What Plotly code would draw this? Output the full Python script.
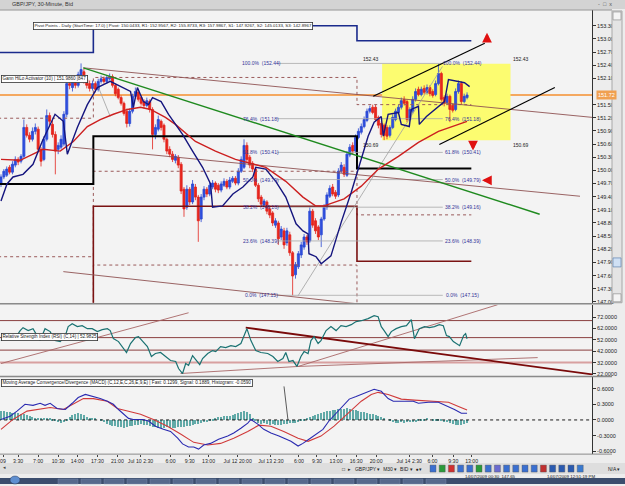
import plotly.graph_objects as go

# ======================= DATA =======================
bar_index = list(range(164))

open_ = [149.69,149.85,149.89,150.07,149.96,150.12,150.25,150.21,150.32,150.98,
         150.80,150.71,150.89,150.94,150.48,150.25,150.71,151.25,151.05,150.82,
         150.48,150.53,150.60,151.28,151.98,151.89,152.07,151.94,152.16,152.25,
         152.07,151.98,151.87,151.98,151.85,152.03,152.09,152.03,152.09,152.14,
         151.94,151.85,151.66,151.53,151.35,151.07,151.35,151.69,151.78,151.66,
         151.57,151.48,151.57,151.39,150.82,150.94,151.12,151.03,150.71,150.48,
         150.37,150.23,150.30,150.14,149.57,149.16,149.57,149.28,149.62,149.39,
         148.89,149.39,149.57,149.46,149.62,149.71,149.66,149.55,149.66,149.75,
         149.62,149.75,149.82,149.71,149.98,150.07,150.57,150.30,150.16,150.03,
         149.66,149.39,149.21,149.28,149.12,149.03,148.75,148.80,148.48,148.62,
         148.35,148.53,148.12,147.62,147.80,148.07,148.25,148.48,148.39,149.07,
         148.85,148.71,148.53,148.89,149.16,149.41,149.62,149.50,149.44,149.98,
         150.07,149.89,150.35,150.57,150.44,150.75,150.87,151.00,151.14,151.35,
         151.44,151.44,151.21,151.07,151.03,150.98,150.80,150.98,151.16,151.32,
         151.44,151.62,151.57,151.16,151.35,151.62,151.85,151.73,151.87,151.78,
         151.89,151.80,151.73,151.98,152.21,151.66,151.55,151.69,151.48,151.39,
         151.80,151.98,151.57,151.66]
high_ = [149.91,150.03,150.09,150.12,150.21,150.32,150.30,150.37,151.16,151.05,
         150.87,150.98,151.07,151.00,150.53,150.78,151.39,151.32,151.14,150.89,
         150.64,150.80,151.35,152.07,152.07,152.12,152.14,152.25,152.44,152.32,
         152.14,152.05,152.05,152.03,152.09,152.16,152.14,152.16,152.21,152.19,
         151.98,151.89,151.71,151.57,151.41,151.41,151.75,151.89,151.85,151.71,
         151.62,151.66,151.62,151.44,151.05,151.25,151.16,151.07,150.75,150.55,
         150.44,150.37,150.35,150.19,149.62,149.66,149.62,149.78,149.69,149.44,
         149.46,149.64,149.62,149.73,149.78,149.75,149.71,149.75,149.82,149.80,
         149.85,149.87,149.87,150.05,150.32,150.71,150.64,150.35,150.21,150.07,
         149.71,149.44,149.35,149.32,149.16,149.07,148.91,148.85,148.73,148.69,
         148.69,148.60,148.16,147.91,148.16,148.37,148.55,148.53,149.16,149.12,
         148.91,148.75,148.94,149.23,149.50,149.66,149.69,149.55,150.05,150.19,
         150.14,150.44,150.60,150.64,150.82,150.96,151.07,151.23,151.41,151.48,
         151.50,151.50,151.25,151.12,151.07,151.03,151.03,151.28,151.41,151.50,
         151.66,151.69,151.62,151.44,151.69,151.87,151.91,151.91,151.94,151.96,
         151.94,151.85,152.05,152.43,152.25,151.71,151.75,151.73,151.53,151.87,
         152.05,152.03,151.75,151.78]
low_ = [149.62,149.80,149.85,149.91,149.91,150.07,150.12,150.16,150.28,150.75,
        150.64,150.66,150.82,150.44,150.09,150.21,150.66,151.03,150.75,149.91,
        150.37,150.48,150.55,151.21,151.85,151.80,151.87,151.89,152.09,151.98,
        151.87,151.80,151.82,151.78,151.80,151.98,151.98,151.98,152.05,151.89,
        151.69,151.62,151.48,151.25,150.98,151.00,151.30,151.64,151.57,151.48,
        151.41,151.44,151.32,150.48,150.71,150.89,150.91,150.64,150.37,150.30,
        150.19,150.16,150.05,149.46,148.94,149.10,149.21,149.23,149.32,148.37,
        148.82,149.32,149.39,149.41,149.57,149.50,149.48,149.50,149.62,149.57,
        149.57,149.71,149.66,149.66,149.94,150.03,150.19,150.05,149.96,149.62,
        149.28,149.16,149.16,149.00,148.91,148.73,148.69,148.30,148.41,148.21,
        148.28,148.05,147.15,147.53,147.75,148.00,148.19,148.30,148.35,148.69,
        148.55,148.41,148.25,148.85,149.10,149.37,149.41,149.35,149.39,149.94,
        149.85,149.85,150.30,150.37,150.39,150.71,150.82,150.96,151.10,151.30,
        151.28,151.12,150.96,150.75,150.69,150.71,150.75,150.94,151.12,151.28,
        151.39,151.48,151.10,151.12,151.30,151.57,151.69,151.69,151.73,151.73,
        151.69,151.66,151.69,151.94,151.57,151.46,151.50,151.10,151.32,151.35,
        151.75,151.50,151.53,151.62]
close_ = [149.85,149.98,150.03,149.96,150.14,150.25,150.19,150.32,150.98,150.80,
          150.71,150.89,150.98,150.48,150.21,150.71,151.25,151.12,150.82,150.44,
          150.57,150.71,151.28,151.98,151.94,152.03,151.94,152.19,152.30,152.07,
          151.94,151.87,151.98,151.85,152.03,152.09,152.03,152.12,152.14,151.94,
          151.75,151.66,151.53,151.30,151.07,151.35,151.69,151.80,151.62,151.53,
          151.48,151.59,151.39,150.82,150.98,151.16,150.98,150.71,150.44,150.37,
          150.25,150.32,150.12,149.53,149.12,149.57,149.28,149.69,149.39,148.85,
          149.39,149.57,149.46,149.66,149.71,149.57,149.55,149.69,149.75,149.62,
          149.78,149.82,149.71,149.98,150.25,150.57,150.25,150.12,150.03,149.66,
          149.35,149.23,149.30,149.07,148.98,148.80,148.85,148.44,148.66,148.30,
          148.62,148.12,147.59,147.85,148.10,148.30,148.48,148.37,149.07,148.75,
          148.62,148.48,148.89,149.16,149.44,149.59,149.46,149.41,149.98,150.12,
          149.91,150.37,150.53,150.44,150.75,150.89,151.00,151.16,151.35,151.41,
          151.32,151.16,151.03,150.82,150.80,150.78,150.98,151.21,151.35,151.44,
          151.59,151.53,151.16,151.39,151.62,151.80,151.73,151.85,151.78,151.89,
          151.75,151.71,151.98,152.21,151.62,151.53,151.69,151.39,151.37,151.80,
          151.98,151.57,151.69,151.72]

ma_x = [0,6.7,11.2,14.7,20.7,25.3,30.2,34.7,39.3,44.2,48.8,52.3,57.5,61,68,75,82,85.6,
        92.6,99.6,105.6,110,113,120,126,132,139,146,153,160,163]
ma_y = [150.25,150.23,150.37,150.48,150.44,150.66,151.00,151.16,151.28,151.39,151.44,
        151.39,151.21,151.05,150.66,150.44,150.25,150.19,150.07,149.75,149.39,149.19,
        149.19,149.35,149.64,150.03,150.32,150.64,150.89,151.05,151.12]

hilo_x = [0,2.1,4.2,7.7,11.2,13,14.4,18.9,21.8,23.2,26.7,30.2,33.7,38.2,41.8,45.3,46.3,
          47.7,49.8,51.6,53,56,58.6,63.5,67,70.5,73.3,74,77.5,81.1,84.6,88.1,89.1,92.6,
          96.1,99.6,103.2,105.6,107.4,107.7,110.2,112,115.4,119,122.5,126,128.4,130.5,
          133,133.7,135.4,139,140,142.8,143.5,146,146.3,148.8,153,155.1,156.5,160,162.1,163.9]
hilo_y = [149.30,149.69,149.85,149.91,150.14,150.41,150.66,151.28,151.12,150.37,150.98,
          151.50,151.89,152.03,151.91,151.80,151.44,151.89,151.57,151.50,151.66,151.57,
          151.28,150.82,150.44,150.07,149.69,149.16,149.19,149.46,149.62,149.85,150.07,
          150.03,149.75,149.39,148.78,148.62,148.55,148.10,148.03,147.87,148.05,148.82,
          149.50,150.25,150.78,151.10,151.23,150.78,151.28,151.32,151.05,151.00,151.39,
          151.46,151.05,151.23,151.46,151.57,152.07,152.03,152.00,151.91]

# daily pivot levels per session (edges in bar index)
session_edges = [-1, 32.3, 124.5, 164.5]
pivot_r1  = [152.69, 153.30, 152.9567, 152.9567]
pivot_mr1 = [151.19, 152.12, 151.50, 151.50]
pivot_pp  = [149.69, 150.78, 150.0433, 150.0433]
pivot_ms1 = [148.03, 149.98, 148.985, 148.985]
pivot_s1  = [146.37, 149.18, 147.9267, 147.9267]
pivot_ms2 = [144.90, 147.84, 146.47, 146.47]

fib_labels = ["100.0%", "76.4%", "61.8%", "50.0%", "38.2%", "23.6%", "0.0%"]
fib_prices = [152.44, 151.18, 150.41, 149.79, 149.16, 148.39, 147.15]
fib_span = [96.5, 154.5]
fib_label_x = [91.0, 161.5]

box_x = [133.3, 178.2]
box_prices = [150.69, 152.43]
current_price = 151.72

# drawn trend lines: [x0, y0, x1, y1]
green_line = [28.8, 152.34, 188.4, 149.00]
brown_lines = [[28.8, 152.34, 206.7, 151.21],
               [24.9, 150.53, 202.5, 149.41],
               [21.8, 147.69, 124.2, 146.96]]
gray_lines = [[103.9, 147.14, 154.4, 152.37],
              [34.0, 151.91, 38.2, 151.23]]
channel_lines = [[130.2, 151.69, 169.2, 152.90],
                 [153.3, 150.59, 193.7, 151.89]]

rsi_x = [0,1.4,3.2,4.9,6.7,7.7,9.5,11.2,12.6,13.7,15.4,17.2,18.9,20.7,22.5,23.5,24.9,26.7,
         28.4,30.2,31.9,33.7,35.4,37.2,38.2,39.3,41.1,42.5,43.9,45.3,47,48.1,49.8,51.2,52.6,
         54,55.8,57.5,59.3,61.1,62.1,63.5,64.6,65.6,67,68.1,69.5,70.5,72.3,74,75.1,76.8,78.6,
         80.4,82.1,83.9,84.9,86,87.4,89.1,90.9,93.3,95.1,96.8,98.6,99.6,100.7,102.1,103.5,
         104.9,106,107.4,108.4,109.5,110.9,111.9,113.7,115.4,117.2,118.9,120.7,122.5,124.2,
         126,128.4,130.5,131.9,133,134,135.4,136.5,138.2,140,141.8,143.5,144.6,146.3,148.1,
         149.8,151.6,153.3,154.7,155.8,156.8,158.2,159.3,160.4,161.8,162.5,163]
rsi_y = [51.4,54.9,55.8,53.1,60.2,62.8,60.2,61.9,55.8,51.4,61.9,59.3,51.4,50.5,55.8,63.7,
         66.3,63.7,64.5,61.9,61.9,59.3,61.0,61.9,60.2,53.1,50.5,46.1,40.9,48.8,54.0,54.9,
         49.6,46.1,37.4,40.0,40.9,37.4,33.8,33.0,26.8,22.4,31.2,29.5,38.2,34.7,30.3,35.6,
         40.0,42.6,41.7,46.1,45.2,46.9,46.1,48.8,54.9,61.9,51.4,42.6,40.9,40.0,37.4,33.0,
         35.6,40.9,33.0,33.8,28.6,37.4,41.7,40.0,51.4,54.9,48.8,51.4,60.2,63.7,60.2,64.5,
         63.7,65.4,68.1,68.9,70.7,73.3,72.4,63.7,60.2,54.9,59.3,61.9,63.7,64.5,69.8,53.1,
         61.9,63.7,62.8,63.7,65.4,64.5,55.8,54.9,50.5,48.8,46.9,55.8,57.5,52.98]
rsi_levels = [69, 54, 43, 32]
rsi_thin_lines = [[0, 31.2, 65.6, 75.9],
                  [62.8, 22.4, 103.9, 28.6],
                  [103.9, 28.6, 173.7, 83.0],
                  [103.9, 28.6, 187.7, 36.4]]
rsi_thick_line = [85.6, 62.8, 206.7, 21.6]

macd_fast_x = [0,3.2,5.6,8.4,11.2,13.7,15.4,17.2,19.6,22.5,24.9,27,29.5,32.3,34.7,37.2,39.3,
               41.1,42.8,44.6,46.3,49.5,51.6,54,56.8,59.3,61.8,63.5,65.6,67.4,69.1,70.9,73.3,
               76.1,79.3,81.4,83.9,86.3,87.4,89.8,91.9,94.4,97.2,99.6,101.4,103.9,105.6,107.7,
               110.2,112.6,114.7,117.2,119.6,121.8,124.2,127,130.5,133,135.4,137.2,141,144.2,
               146,149.5,153,156.5,158.6,161,163]
macd_fast_y = [0.01,0.07,0.17,0.30,0.28,0.32,0.28,0.32,0.22,0.20,0.32,0.43,0.49,0.45,0.41,
               0.36,0.30,0.20,0.11,0.03,0.01,0.01,-0.02,-0.12,-0.18,-0.22,-0.35,-0.46,-0.52,
               -0.52,-0.56,-0.48,-0.45,-0.37,-0.31,-0.25,-0.16,-0.06,0.01,-0.08,-0.18,-0.25,
               -0.31,-0.37,-0.41,-0.50,-0.45,-0.37,-0.27,-0.18,-0.02,0.13,0.26,0.40,0.45,0.51,
               0.59,0.55,0.41,0.36,0.36,0.36,0.32,0.34,0.34,0.26,0.20,0.13,0.13]
macd_sig_x = [0,4.2,9.1,12.6,17.2,21.8,25.3,28.8,32.3,37.2,40.7,45.3,48.8,53.3,58.2,62.8,67.4,
              72.3,76.8,81.4,86.3,90.2,94.4,98.9,103.9,107.4,111.9,116.5,121.4,126,129.5,131.9,
              135.4,140,144.6,151.6,156.5,160,163]
macd_sig_y = [-0.18,0.01,0.17,0.20,0.24,0.20,0.30,0.41,0.41,0.36,0.22,0.15,0.11,0.01,-0.12,
              -0.27,-0.43,-0.48,-0.45,-0.35,-0.22,-0.10,-0.12,-0.22,-0.35,-0.41,-0.31,-0.12,
              0.13,0.36,0.49,0.53,0.49,0.40,0.38,0.36,0.34,0.26,0.19]
macd_hist = [0.16,0.17,0.15,0.14,0.12,
             0.13,0.12,0.11,0.10,0.09,0.07,0.05,
             0.03,0.02,0.02,0.01,0.02,0.01,-0.01,
             -0.03,-0.05,-0.06,-0.04,-0.02,
             0.04,0.08,0.11,0.12,0.10,0.08,0.05,
             0.03,0.02,0.01,0.00,
             -0.03,-0.05,-0.08,-0.10,-0.12,-0.13,-0.14,
             -0.15,-0.16,-0.15,-0.13,-0.12,-0.11,-0.10,
             -0.09,-0.10,-0.11,-0.12,-0.14,-0.15,
             -0.16,-0.17,-0.16,-0.15,-0.16,-0.17,
             -0.16,-0.15,-0.14,-0.15,-0.13,-0.12,-0.11,-0.09,-0.08,
             -0.06,-0.05,-0.04,-0.02,-0.01,
             0.02,0.04,0.05,0.07,0.06,0.07,0.08,
             0.10,0.12,0.14,0.16,0.15,0.10,
             0.02,-0.03,-0.06,-0.08,-0.07,-0.09,
             -0.10,-0.09,-0.10,-0.11,-0.10,-0.09,-0.08,
             -0.07,-0.06,-0.07,-0.05,-0.03,-0.01,
             0.02,0.04,0.06,
             0.09,0.11,0.13,0.15,0.16,0.17,0.18,
             0.19,0.21,0.20,0.21,0.22,0.20,0.19,0.18,0.16,0.15,
             0.14,0.12,0.11,0.10,0.08,0.06,
             0.04,0.02,0.00,
             -0.03,-0.05,-0.06,-0.06,-0.05,-0.06,-0.05,-0.04,-0.05,-0.04,-0.03,-0.02,
             -0.01,0.01,0.00,-0.01,
             -0.02,-0.03,-0.03,-0.04,-0.05,
             -0.07,-0.09,-0.10,-0.11,-0.10,-0.08,-0.06]

time_tick_pos = [0.7, 6, 13, 20, 26.7, 33.7, 40.7, 48.8, 59.3, 66, 72.6, 82.8, 94.4, 104.2,
                 110.5, 117.2, 124.2, 131.2, 142.8, 150.9, 158.2, 164.6]
time_tick_text = ["09", "3:30", "7:00", "10:30", "14:00", "17:30", "21:00", "Jul 10 2:30",
                  "6:00", "9:30", "13:00", "Jul 12 20:00", "Jul 13 2:30", "6:00", "9:30",
                  "13:00", "16:30", "20:00", "Jul 14 2:30", "6:00", "9:30", "13:00"]
price_ticks = [153.30, 153.00, 152.70, 152.40, 152.10, 151.50, 151.20, 150.90, 150.60, 150.30,
               150.00, 149.70, 149.40, 149.10, 148.80, 148.50, 148.20, 147.90, 147.60, 147.30, 147.00]
rsi_ticks = [72, 62, 52, 42, 32, 22]
macd_ticks = [0.6, 0.3, 0.0, -0.3, -0.6]

# ======================= FIGURE =======================
W, H = 625, 486
def PX(px):
    return px / W
def PY(py):
    return 1 - py / H

FONT = "Liberation Sans, Arial, sans-serif"
fig = go.Figure()

def seg(xs, ys, color, width, yaxis="y", dash="solid", shape="linear"):
    fig.add_trace(go.Scatter(x=xs, y=ys, mode="lines", yaxis=yaxis, hoverinfo="skip",
                             line=dict(color=color, width=width, dash=dash, shape=shape)))

# pivot step lines
seg(session_edges, pivot_ms2, "#9a5a5a", 1, dash="dot", shape="hv")
seg(session_edges, pivot_ms1, "#9a5a5a", 1, dash="dot", shape="hv")
seg(session_edges, pivot_mr1, "#9a5a5a", 1, dash="dot", shape="hv")
seg(session_edges, pivot_s1, "#7a1212", 1.6, shape="hv")
seg(session_edges, pivot_r1, "#1a2a8c", 1.6, shape="hv")
seg(session_edges, pivot_pp, "#000000", 2, shape="hv")

# fibonacci lines
for p in fib_prices:
    seg(fib_span, [p, p], "#a8a8a8", 0.8)

# trend lines
for ln in brown_lines:
    seg([ln[0], ln[2]], [ln[1], ln[3]], "#8e5252", 0.9)
for ln in gray_lines:
    seg([ln[0], ln[2]], [ln[1], ln[3]], "#a0a0a0", 0.8)
seg([green_line[0], green_line[2]], [green_line[1], green_line[3]], "#1f8a1f", 1.4)

# candles
fig.add_trace(go.Candlestick(
    x=bar_index, open=open_, high=high_, low=low_, close=close_, yaxis="y",
    whiskerwidth=0, hoverinfo="skip",
    increasing=dict(line=dict(color="#2a48d2", width=0.8), fillcolor="#2f4fe0"),
    decreasing=dict(line=dict(color="#e2231c", width=0.8), fillcolor="#e8261e")))

# indicators on price
seg(ma_x, ma_y, "#cc2020", 1.4)
seg(hilo_x, hilo_y, "#15157e", 1.4)
for ln in channel_lines:
    seg([ln[0], ln[2]], [ln[1], ln[3]], "#000000", 1.2)

# RSI panel
for lv in rsi_levels[:3]:
    seg([-1, 210], [lv, lv], "#7e2a2a", 0.9, yaxis="y2")
seg([-1, 210], [rsi_levels[3], rsi_levels[3]], "#d8a0a0", 2, yaxis="y2")
for ln in rsi_thin_lines:
    seg([ln[0], ln[2]], [ln[1], ln[3]], "#a86666", 0.9, yaxis="y2")
seg([rsi_thick_line[0], rsi_thick_line[2]], [rsi_thick_line[1], rsi_thick_line[3]],
    "#7a0a0a", 1.8, yaxis="y2")
seg(rsi_x, rsi_y, "#1a7272", 1.2, yaxis="y2")

# MACD panel
fig.add_trace(go.Bar(x=bar_index, y=macd_hist, yaxis="y3", width=0.38,
                     marker=dict(color="#62aaa8", line=dict(width=0)), hoverinfo="skip"))
seg([-1, 210], [0, 0], "#000000", 0.9, yaxis="y3", dash="dot")
seg(macd_sig_x, macd_sig_y, "#d03a3a", 1.1, yaxis="y3")
seg(macd_fast_x, macd_fast_y, "#2a2ab0", 1.1, yaxis="y3")

shapes = []
# yellow box & current price line (data referenced, below traces)
shapes.append(dict(type="rect", xref="x", yref="y", x0=box_x[0], x1=box_x[1],
                   y0=box_prices[0], y1=box_prices[1], fillcolor="#fcfc70",
                   line=dict(width=0), layer="below"))
shapes.append(dict(type="line", xref="x domain", yref="y", x0=0, x1=1,
                   y0=current_price, y1=current_price,
                   line=dict(color="#f4a860", width=2), layer="below"))
# window chrome
shapes += [
    dict(type="rect", xref="paper", yref="paper", x0=0, x1=1, y0=PY(9), y1=1,
         fillcolor="#d3d3d3", line=dict(width=0)),
    dict(type="line", xref="paper", yref="paper", x0=0, x1=PX(612), y0=PY(10), y1=PY(10),
         line=dict(color="#8a8a8a", width=1)),
    dict(type="line", xref="paper", yref="paper", x0=0, x1=PX(612), y0=PY(305), y1=PY(305),
         line=dict(color="#8a8a8a", width=1.5)),
    dict(type="line", xref="paper", yref="paper", x0=0, x1=PX(612), y0=PY(378), y1=PY(378),
         line=dict(color="#8a8a8a", width=1.5)),
    dict(type="line", xref="paper", yref="paper", x0=0, x1=PX(612), y0=PY(456), y1=PY(456),
         line=dict(color="#8a8a8a", width=1)),
    # scrollbar
    dict(type="rect", xref="paper", yref="paper", x0=PX(612), x1=PX(622), y0=PY(304), y1=PY(11),
         fillcolor="#e4e4e4", line=dict(color="#a8a8a8", width=1)),
    dict(type="rect", xref="paper", yref="paper", x0=PX(613), x1=PX(621), y0=PY(20), y1=PY(12),
         fillcolor="#f4f4f4", line=dict(color="#9a9a9a", width=0.8)),
    dict(type="rect", xref="paper", yref="paper", x0=PX(613), x1=PX(621), y0=PY(303), y1=PY(295),
         fillcolor="#f4f4f4", line=dict(color="#9a9a9a", width=0.8)),
    dict(type="rect", xref="paper", yref="paper", x0=PX(613), x1=PX(621), y0=PY(268), y1=PY(259),
         fillcolor="#cfe0f4", line=dict(color="#6f8fb8", width=0.8)),
    # MACD label leader line
    dict(type="line", xref="paper", yref="paper", x0=PX(284), x1=PX(288), y0=PY(388), y1=PY(422),
         line=dict(color="#333333", width=0.8)),
    # toolbar, status, taskbar
    dict(type="rect", xref="paper", yref="paper", x0=0, x1=1, y0=PY(476), y1=PY(465),
         fillcolor="#dedede", line=dict(width=0)),
    dict(type="rect", xref="paper", yref="paper", x0=0, x1=1, y0=0, y1=PY(480),
         fillcolor="#3b4d6d", line=dict(width=0)),
    dict(type="circle", xref="paper", yref="paper", x0=PX(10), x1=PX(20), y0=0, y1=PY(478),
         fillcolor="#5f8fd0", line=dict(color="#2a3d5c", width=0.5)),
]
# toolbar icons and taskbar buttons (decoration)
icon_cols = ["#3a6fd0", "#2a9a3a", "#d03030", "#3a6fd0", "#3a6fd0", "#2a9a3a", "#3a6fd0",
             "#6a6ad0", "#3a6fd0", "#3a6fd0", "#3a6fd0", "#3a6fd0", "#c03030", "#2a5ab0",
             "#2a5ab0", "#2a5ab0", "#3a7ad0"]
for k, c in enumerate(icon_cols):
    x0 = 430 + k * 9.2
    shapes.append(dict(type="rect", xref="paper", yref="paper", x0=PX(x0), x1=PX(x0 + 6),
                       y0=PY(474), y1=PY(467), fillcolor=c, line=dict(color="#555", width=0.4)))
for k in range(17):
    x0 = 58 + k * 23
    shapes.append(dict(type="rect", xref="paper", yref="paper", x0=PX(x0), x1=PX(x0 + 20),
                       y0=PY(486), y1=PY(481), fillcolor="#56698c",
                       line=dict(color="#7d8fb0", width=0.4)))

ann = []
def note(text, x, y, size=5, xanchor="left", yanchor="middle", color="#222", bg=None,
         border=None, xref="paper", yref="paper"):
    d = dict(text=text, x=x, y=y, xref=xref, yref=yref, xanchor=xanchor, yanchor=yanchor,
             showarrow=False, font=dict(size=size, color=color, family=FONT))
    if bg:
        d["bgcolor"] = bg
    if border:
        d.update(bordercolor=border, borderwidth=0.8, borderpad=0.6)
    ann.append(d)

note("GBP/JPY, 30-Minute, Bid", PX(10), PY(4.5), size=5.5, color="#333")
note("-  \u25a1  x", PX(596), PY(4.5), size=5.5, color="#555")
note("Pivot Points - Daily (StartTime: 17.0) | Pivot: 150.0433, R1: 152.9567, R2: 155.8733, "
     "R3: 157.9867, S1: 147.9267, S2: 145.0133, S3: 142.8967",
     PX(33), PY(26.5), size=4.4, bg="#ffffff", border="#333333")
note("Gann HiLo Activator (10) | 151.9860 |847", PX(0.5), PY(79), size=4.6,
     bg="#ffffff", border="#333333")
note("Relative Strength Index (RSI) (C,14) | 52.9825", PX(0.5), PY(338.5), size=4.6,
     bg="#ffffff", border="#333333")
note("Moving Average Convergence/Divergence (MACD) (C,12,E,C,26,E,9,E) | Fast: 0.1299, "
     "Signal: 0.1889, Histogram: -0.0590", PX(0.5), PY(384.5), size=4.6,
     bg="#ffffff", border="#333333")

# fibonacci labels
for lab, p in zip(fib_labels, fib_prices):
    for fx in fib_label_x:
        note(f"{lab}  ({p:.2f})", fx, p, size=5, xanchor="center", color="#333399",
             xref="x", yref="y")

# yellow box bounds
for bx in [box_x[0] - 4, box_x[1] + 3.5]:
    note(f"{box_prices[1]:.2f}", bx, box_prices[1], size=5, xanchor="center",
         yanchor="bottom", color="#222", xref="x", yref="y")
    note(f"{box_prices[0]:.2f}", bx, box_prices[0], size=5, xanchor="center",
         yanchor="top", color="#222", xref="x", yref="y")

# current price tag on the axis
note(f"{current_price:.2f}", PX(596), current_price, size=5.5, color="#ffffff",
     bg="#f0a050", yref="y")

# red arrows
for (tx, ty, dx, dy) in [(487, 33, 0, 9), (473, 151, 0, -9), (482, 181, 10, 0)]:
    ann.append(dict(x=PX(tx), y=PY(ty), xref="paper", yref="paper", text="", showarrow=True,
                    ax=dx, ay=dy, arrowhead=2, arrowsize=0.75, arrowwidth=2.6,
                    arrowcolor="#e01010"))

# bottom bar texts
note("\u25a1  \u25b8   GBP/JPY \u25be  M30 \u25be  BID \u25be  \u25cf\u25be", PX(340), PY(470.5),
     size=5, color="#222")
note("N/A \u25be", PX(606), PY(470.5), size=5, color="#222")
note("14/07/2009 00:30  147.65", PX(463), PY(478), size=4.4, color="#222")
note("14/07/2009 12:51:19 PM", PX(545), PY(478), size=4.4, color="#222")
note("\u25c2", PX(1), PY(468.5), size=5, color="#444")

axis_common = dict(showgrid=False, zeroline=False, ticks="outside", ticklen=3,
                   tickcolor="#333", showline=True, linecolor="#333", linewidth=1,
                   side="right", anchor="x", fixedrange=True,
                   tickfont=dict(size=5.5, color="#222", family=FONT))

fig.update_layout(
    width=W, height=H, margin=dict(l=0, r=0, t=0, b=0),
    paper_bgcolor="#ededed", plot_bgcolor="#f3f3f3",
    showlegend=False, bargap=0, boxgap=0.15, boxgroupgap=0.15,
    font=dict(family=FONT, size=5, color="#222"),
    xaxis=dict(domain=[0, 592 / W], range=[-0.35, 206.7], anchor="y3",
               tickvals=time_tick_pos, ticktext=time_tick_text, ticks="outside",
               ticklen=2, tickcolor="#444", showgrid=False, zeroline=False,
               showline=False, rangeslider=dict(visible=False), fixedrange=True,
               tickfont=dict(size=5.2, color="#222", family=FONT)),
    yaxis=dict(domain=[PY(304), PY(10)], range=[146.98, 153.66], tickvals=price_ticks,
               ticktext=[f"{v:.2f}" for v in price_ticks], **axis_common),
    yaxis2=dict(domain=[PY(377), PY(306)], range=[20.68, 82.96], tickvals=rsi_ticks,
                ticktext=[f"{v:.4f}" for v in rsi_ticks], **axis_common),
    yaxis3=dict(domain=[PY(456), PY(379)], range=[-0.656, 0.816], tickvals=macd_ticks,
                ticktext=[f"{v:.4f}" for v in macd_ticks], **axis_common),
    shapes=shapes, annotations=ann,
)

fig.write_html("out.html", config={"displayModeBar": False})
